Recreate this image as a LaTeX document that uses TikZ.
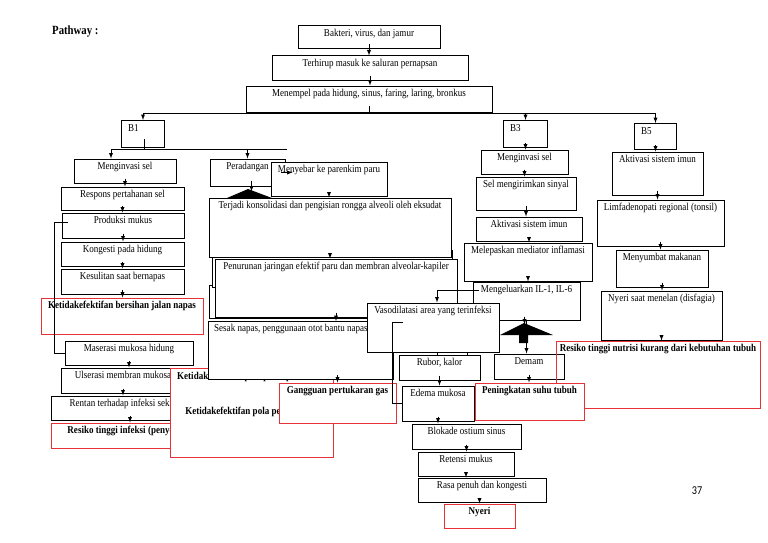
\documentclass[tikz,border=0pt]{standalone}
\usepackage{fontspec}
\setmainfont{Liberation Serif}[FakeStretch=0.86]
\newfontfamily\pgnumfont{Carlito}[FakeStretch=0.85]
\usepackage{tikz}
\usetikzlibrary{arrows, calc}
\definecolor{pwred}{RGB}{228,50,54}

\begin{document}
\begin{tikzpicture}[x=1pt, y=-1pt,
	box/.style={draw=black, line width=1pt, fill=white, inner sep=0pt},
	redbox/.style={draw=pwred, line width=1pt, fill=white, inner sep=0pt},
	rednofill/.style={draw=pwred, line width=1pt, inner sep=0pt},
	txt/.style={font=\fontsize{10.5}{12}\selectfont, inner sep=0pt, anchor=mid},
	arr/.style={-latex, line width=0.9pt},
	ln/.style={line width=0.9pt}]

% all positions are in pixels of the page, y runs downwards
\useasboundingbox (0,0) rectangle (768,543);
\fill[white] (0,0) rectangle (768,543);

% box from corner (x1,y1) to (x2,y2), text centred near the top
\newcommand{\pwbox}[7][box]{%
	\node[#1, minimum width={(#5-#3)*1pt}, minimum height={(#6-#4)*1pt}] (#2) at ({(#3+#5)/2}, {(#4+#6)/2}) {};
	\node[txt] (#2-t) at ({(#3+#5)/2}, #4+8) {#7};
}

\node[txt, anchor=mid west, font=\fontsize{12.5}{14}\selectfont\bfseries] (pathway) at (52,32) {Pathway :};

\pwbox{bakteri}{298}{26}{440}{49}{Bakteri, virus, dan jamur}
\pwbox{terhirup}{272}{56}{468}{80}{Terhirup masuk ke saluran pernapsan}
\pwbox{menempel}{246}{86}{492}{112}{Menempel pada hidung, sinus, faring, laring, bronkus}

\foreach \n/\l/\xa/\ya/\xb/\yb in {b1/B1/121/120/164/147, b3/B3/503/120/547/147, b5/B5/634/123/676/149} {
	\node[box, anchor=north west, minimum width={(\xb-\xa)*1pt}, minimum height={(\yb-\ya)*1pt}] (\n) at (\xa,\ya) {};
	\node[txt, anchor=mid west] (\n-t) at (\xa+7,\ya+9) {\l};
}

% B1, left column
\pwbox{invasiA}{74}{159}{176}{183}{Menginvasi sel}
\pwbox{respons}{61}{187}{184}{210}{Respons pertahanan sel}
\pwbox{produksi}{62}{213}{184}{238}{Produksi mukus}
\pwbox{kongesti}{61}{242}{184}{266}{Kongesti pada hidung}
\pwbox{kesulitan}{61}{269}{184}{294}{Kesulitan saat bernapas}
\pwbox[redbox]{bersihan}{41}{298}{203}{334}{\bfseries Ketidakefektifan bersihan jalan napas}
\pwbox{maserasi}{65}{341}{193}{365}{Maserasi mukosa hidung}
\pwbox{ulserasi}{61}{368}{185}{393}{Ulserasi membran mukosa}
\pwbox{rentan}{51}{396}{209}{420}{Rentan terhadap infeksi sekunder}
\pwbox[redbox]{infeksi}{51}{423}{244}{448}{\bfseries Resiko tinggi infeksi (penyebaran infeksi)}

\node[redbox, anchor=north west, minimum width=163pt, minimum height=89pt] (pola) at (170,368) {};
\node[txt, anchor=mid west] (pola-t) at (177,377) {\bfseries Ketidakefektifan pola pernapasan};
\node[txt] (pola-t2) at (251,412) {\bfseries Ketidakefektifan pola pernapasan};

% B1, right column
\fill (227,198) -- (248,189) -- (272,198) -- cycle; % head of a block arrow
\pwbox{peradangan}{210}{159}{285}{186}{Peradangan}
\pwbox{menyebar}{271}{162}{387}{196}{Menyebar ke parenkim paru}
\node[box, anchor=north west, minimum width=246pt, minimum height=33pt] (hidB) at (209,285) {};
\node[box, anchor=north west, minimum width=240pt, minimum height=37pt] (hidA) at (212,250) {};
\pwbox{terjadi}{209}{198}{451}{257}{Terjadi konsolidasi dan pengisian rongga alveoli oleh eksudat}
\pwbox{penurunan}{215}{259}{457}{317}{Penurunan jaringan efektif paru dan membran alveolar-kapiler}
\node[box, anchor=north west, minimum width=185pt, minimum height=58pt] (sesak) at (208,321) {};
\node[txt, anchor=mid west] (sesak-t) at (214,329) {Sesak napas, penggunaan otot bantu napas};
\pwbox[redbox]{gangguan}{279}{383}{396}{423}{\bfseries Gangguan pertukaran gas}

% B3
\pwbox{invasiB}{481}{150}{568}{174}{Menginvasi sel}
\pwbox{sinyal}{476}{177}{576}{210}{Sel mengirimkan sinyal}
\pwbox{imunA}{476}{217}{582}{241}{Aktivasi sistem imun}
\pwbox{mediator}{464}{243}{592}{281}{Melepaskan mediator inflamasi}
\pwbox{il}{473}{282}{580}{320}{Mengeluarkan IL-1, IL-6}
\pwbox{vaso}{367}{303}{499}{352}{Vasodilatasi area yang terinfeksi}
\pwbox{rubor}{399}{355}{480}{380}{Rubor, kalor}
\pwbox{edema}{402}{386}{474}{421}{Edema mukosa}
\pwbox{blokade}{412}{424}{521}{449}{Blokade ostium sinus}
\pwbox{retensi}{418}{452}{514}{476}{Retensi mukus}
\pwbox{rasa}{418}{478}{546}{502}{Rasa penuh dan kongesti}
\pwbox[redbox]{nyeri}{444}{504}{515}{528}{\bfseries Nyeri}
\fill (500,335) -- (524,323) -- (553,335) -- (528,335) -- (528,343) -- (519,343) -- (519,335) -- cycle; % block arrow
\pwbox{demam}{494}{354}{564}{379}{Demam}

% B5
\pwbox{imunB}{612}{152}{703}{195}{Aktivasi sistem imun}
\pwbox{limfa}{597}{200}{724}{246}{Limfadenopati regional (tonsil)}
\pwbox{menyumbat}{616}{250}{708}{287}{Menyumbat makanan}
\pwbox{disfagia}{601}{291}{722}{340}{Nyeri saat menelan (disfagia)}
\pwbox[rednofill]{nutrisi}{556}{341}{760}{408}{\bfseries Resiko tinggi nutrisi kurang dari kebutuhan tubuh}
\pwbox[redbox]{suhu}{475}{383}{584}{420}{\bfseries Peningkatan suhu tubuh}

% connectors
\coordinate (bus) at (369,113);
\draw[ln] (menempel.south) ++(0,-7) -- (bus);
\draw[arr] (bus) -| (b1);
\draw[arr] (bus) -| (b3);
\draw[arr] (bus) -| (b5);

\coordinate (b1bus) at (144,149);
\coordinate (b1end) at (287,149);
\draw[ln] (b1bus) -- ++(0,-10);
\draw[ln] (b1bus) -- (b1end);
\draw[arr] (b1bus) -| ([xshift=-14]invasiA.north);
\draw[arr] (b1bus) -| (peradangan);

% short arrows start a little inside the upper box
\foreach \a/\b in {bakteri/terhirup, terhirup/menempel, invasiA/respons, respons/produksi, produksi/kongesti, kongesti/kesulitan, kesulitan/bersihan, maserasi/ulserasi, ulserasi/rentan, rentan/infeksi, menyebar/terjadi, terjadi/penurunan, penurunan/sesak, rubor/edema, edema/blokade, blokade/retensi, retensi/rasa, b3/invasiB, invasiB/sinyal, sinyal/imunA, imunA/mediator, mediator/il, demam/suhu, b5/imunB, imunB/limfa, limfa/menyumbat, menyumbat/disfagia, disfagia/nutrisi}
	\draw[arr] ([yshift=5pt]\a.south) -- (\a |- \b.north);

\draw[arr] ([shift={(4,-6)}]peradangan.south) -- ++(0,11);
\draw[arr] ([xshift=-5]peradangan.east) -- ++(12,0);
\draw[arr] ([yshift=5pt]gangguan |- sesak.south) -- (gangguan);
\draw[arr] ([yshift=5pt]nyeri |- rasa.south) -- (nyeri);
\draw[arr] (il) -- (il |- demam.north);
\draw[arr] ([shift={(-2,-4)}]il.south) -- ++(0,8);
\draw[arr] ([shift={(6,9)}]il.north west) -| ([xshift=4]vaso.north);
\draw[ln] ([xshift=4]vaso.south) -- ([xshift=4]vaso.south |- rubor.north);
\draw[ln] ([xshift=34]vaso.south) -- ([xshift=34]vaso.south |- rubor.north);
\draw[ln] ([shift={(36,20)}]vaso.north west) -- ++(-10,0) |- (edema.west);
\draw[ln] ([shift={(6,10)}]produksi.north west) -- ++(-13,0) |- (maserasi.west);

\node[font=\pgnumfont\fontsize{12}{14}\selectfont, inner sep=0pt, anchor=mid] (page) at (697,492) {37};

\end{tikzpicture}
\end{document}
